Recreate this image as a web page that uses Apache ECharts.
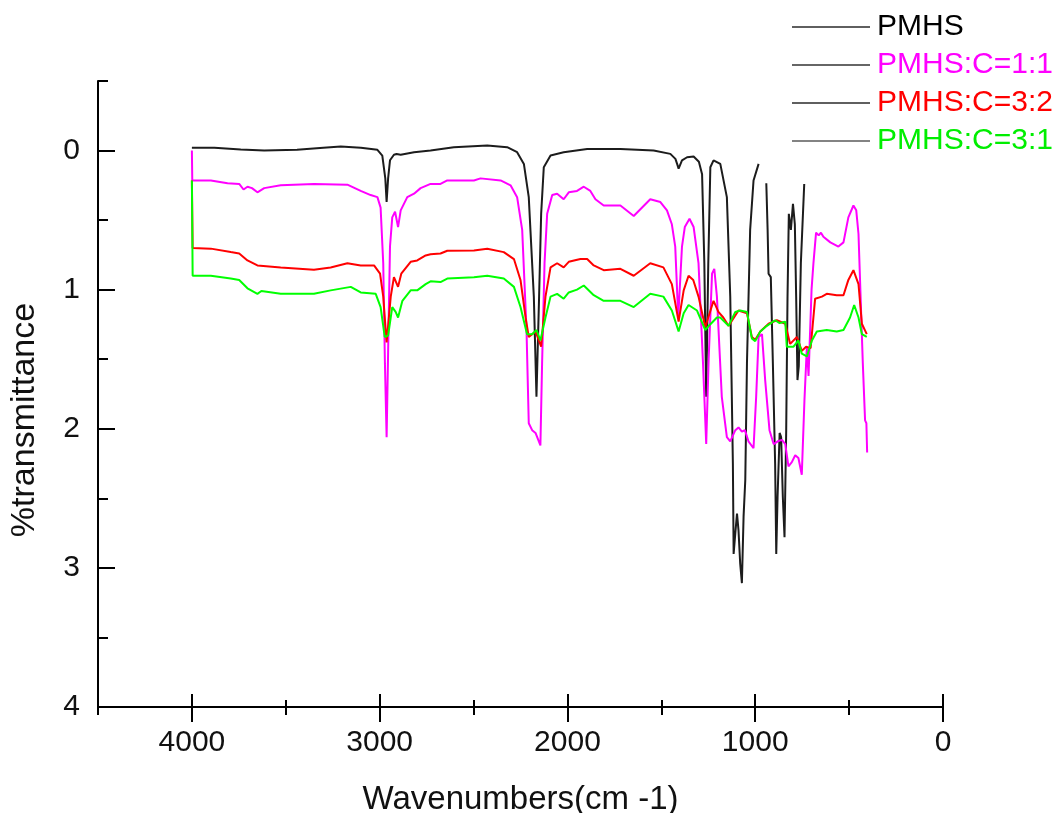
<!DOCTYPE html>
<html>
<head>
<meta charset="utf-8">
<script src="https://cdn.jsdelivr.net/npm/echarts@6/dist/echarts.min.js"></script>
<style>
html,body{margin:0;padding:0;background:#fff;}
#chart{width:1062px;height:813px;}
</style>
</head>
<body>
<div id="chart"></div>
<script>
// ---- Data (wavenumber cm-1, %transmittance axis value) ----
const seriesNames = ['PMHS', 'PMHS:C=1:1', 'PMHS:C=3:2', 'PMHS:C=3:1'];
const xMajorTicks = [0, 1000, 2000, 3000, 4000];
const xMinorTicks = [500, 1500, 2500, 3500, 4500];
const yMajorTicks = [0, 1, 2, 3, 4];
const yMinorTicks = [-0.5, 0.5, 1.5, 2.5, 3.5];

const pmhs = [
  [4000,-0.02],[3880,-0.02],[3740,-0.007],[3615,0.0],[3440,-0.005],[3300,-0.02],[3207,-0.03],
  [3100,-0.02],[3012,-0.005],[2986,0.036],[2970,0.2],[2963,0.37],[2955,0.2],[2945,0.07],
  [2924,0.03],[2910,0.025],[2888,0.03],[2817,0.012],[2729,0.0],[2605,-0.024],[2427,-0.036],
  [2321,-0.024],[2268,0.012],[2232,0.096],[2206,0.335],[2179,1.05],[2165,1.77],[2151,1.05],
  [2140,0.455],[2126,0.12],[2090,0.036],[2020,0.012],[1895,-0.012],[1718,-0.012],[1541,0.0],
  [1452,0.024],[1425,0.06],[1416,0.096],[1408,0.13],[1390,0.07],[1363,0.048],[1328,0.043],
  [1300,0.08],[1283,0.17],[1271,0.81],[1261,1.77],[1250,0.81],[1239,0.12],[1222,0.07],
  [1186,0.096],[1151,0.335],[1133,1.05],[1119,2.25],[1115,2.90],[1106,2.75],[1097,2.61],
  [1089,2.73],[1080,2.97],[1071,3.11],[1062,2.63],[1053,2.37],[1044,1.53],[1027,0.57],
  [1009,0.215],[982,0.096],[960,null],[941,0.235],[934,0.57],[929,0.885],[917,0.91],[906,1.53],
  [894,2.25],[888,2.90],[881,2.49],[870,2.03],[862,2.06],[853,2.49],[844,2.78],[835,2.01],
  [828,1.05],[821,0.455],[810,0.57],[799,0.383],[789,0.53],[782,1.05],[775,1.65],[768,1.55],
  [757,0.81],[739,0.24]
];

const pmhsC11 = [
  [4000,0.0],[3998,0.215],[3899,0.215],[3810,0.235],[3748,0.24],[3725,0.28],[3704,0.26],
  [3680,0.27],[3651,0.30],[3615,0.27],[3527,0.25],[3350,0.24],[3172,0.245],[3101,0.29],
  [3048,0.32],[3012,0.335],[2995,0.41],[2981,0.81],[2972,1.53],[2963,2.06],[2955,1.45],
  [2945,0.69],[2933,0.48],[2918,0.44],[2902,0.55],[2888,0.43],[2853,0.335],[2817,0.31],
  [2782,0.27],[2729,0.24],[2676,0.24],[2640,0.215],[2498,0.215],[2463,0.20],[2356,0.215],
  [2303,0.25],[2268,0.335],[2241,0.57],[2218,1.29],[2206,1.96],[2188,2.01],[2170,2.03],
  [2144,2.12],[2135,1.53],[2122,0.81],[2108,0.455],[2081,0.32],[2055,0.31],[2020,0.35],
  [1993,0.30],[1949,0.29],[1913,0.26],[1878,0.29],[1851,0.35],[1807,0.395],[1718,0.395],
  [1647,0.47],[1559,0.35],[1505,0.37],[1470,0.43],[1444,0.53],[1426,0.69],[1410,1.2],
  [1390,0.69],[1375,0.55],[1350,0.49],[1328,0.55],[1302,0.81],[1278,1.53],[1261,2.11],
  [1248,1.5],[1230,0.885],[1218,0.85],[1204,1.05],[1178,1.77],[1151,2.06],[1133,2.09],
  [1106,2.01],[1089,1.99],[1071,2.02],[1055,2.01],[1036,2.09],[1009,2.14],[995,1.77],
  [982,1.34],[964,1.32],[947,1.65],[924,2.01],[902,2.11],[880,2.09],[858,2.08],[840,2.11],
  [823,2.27],[805,2.24],[787,2.19],[770,2.21],[752,2.33],[738,1.8],[725,1.41],[716,1.62],
  [700,1.0],[690,0.81],[676,0.59],[662,0.61],[650,0.59],[637,0.62],[600,0.66],[557,0.69],
  [530,0.66],[504,0.48],[477,0.395],[462,0.43],[450,0.6],[427,1.53],[415,1.94],[408,1.96],
  [404,2.17]
];

const pmhsC32 = [
  [4000,0.215],[3996,0.70],[3899,0.705],[3793,0.73],[3748,0.74],[3704,0.79],[3651,0.826],
  [3527,0.84],[3350,0.857],[3261,0.84],[3172,0.81],[3101,0.826],[3030,0.826],[2998,0.885],
  [2981,1.05],[2963,1.38],[2941,1.05],[2924,0.91],[2902,0.98],[2885,0.885],[2835,0.80],
  [2800,0.79],[2755,0.754],[2729,0.745],[2676,0.74],[2640,0.72],[2498,0.718],[2427,0.706],
  [2339,0.73],[2285,0.78],[2250,0.93],[2223,1.20],[2206,1.34],[2170,1.30],[2140,1.41],
  [2117,1.05],[2090,0.84],[2055,0.81],[2020,0.84],[1993,0.80],[1931,0.78],[1895,0.78],
  [1860,0.826],[1807,0.86],[1718,0.85],[1647,0.90],[1559,0.81],[1489,0.84],[1444,0.96],
  [1408,1.23],[1381,1.005],[1355,0.90],[1330,0.93],[1302,1.05],[1266,1.27],[1250,1.2],
  [1222,1.08],[1196,1.16],[1170,1.2],[1142,1.26],[1089,1.15],[1044,1.17],[1018,1.34],
  [1000,1.36],[973,1.30],[929,1.245],[885,1.22],[840,1.245],[814,1.39],[778,1.34],
  [752,1.44],[729,1.41],[705,1.42],[681,1.065],[645,1.05],[619,1.03],[566,1.04],[530,1.04],
  [504,0.93],[477,0.86],[450,0.96],[432,1.245],[406,1.32]
];

const pmhsC31 = [
  [4000,0.215],[3996,0.90],[3899,0.90],[3793,0.92],[3748,0.93],[3704,0.99],[3651,1.03],
  [3630,1.01],[3527,1.03],[3350,1.03],[3261,1.005],[3154,0.98],[3101,1.02],[3021,1.03],
  [2995,1.125],[2973,1.34],[2955,1.33],[2933,1.125],[2915,1.16],[2902,1.20],[2879,1.08],
  [2835,1.005],[2800,1.005],[2755,0.96],[2729,0.94],[2676,0.945],[2640,0.92],[2498,0.91],
  [2427,0.90],[2339,0.92],[2285,0.98],[2250,1.125],[2215,1.32],[2188,1.32],[2165,1.29],
  [2144,1.365],[2117,1.20],[2090,1.05],[2055,1.03],[2020,1.065],[1993,1.02],[1949,1.0],
  [1913,0.97],[1860,1.04],[1807,1.08],[1718,1.08],[1647,1.125],[1559,1.03],[1489,1.05],
  [1444,1.15],[1408,1.30],[1381,1.17],[1355,1.11],[1310,1.15],[1266,1.29],[1240,1.25],
  [1204,1.20],[1186,1.20],[1142,1.26],[1106,1.16],[1080,1.15],[1044,1.16],[1018,1.35],
  [1000,1.37],[973,1.30],[938,1.26],[894,1.22],[870,1.24],[840,1.23],[832,1.41],[796,1.41],
  [770,1.365],[752,1.46],[725,1.48],[698,1.365],[672,1.30],[619,1.29],[566,1.30],[530,1.29],
  [495,1.20],[473,1.11],[450,1.20],[432,1.32],[406,1.34]
];

const lineColors = ['#1c1c1c', '#ff00ff', '#ff0000', '#00ff00'];
const legendTextColors = ['#000000', '#ff00ff', '#ff0000', '#00ee00'];
const legendLineColors = ['#2a2a2a', '#333333', '#2a2a2a', '#5a5a5a'];
const seriesData = [pmhs, pmhsC11, pmhsC32, pmhsC31];

const FONT = '"Liberation Sans", Arial, sans-serif';

function xAx(opts) {
  return Object.assign({
    type: 'value', min: 0, max: 4500, inverse: true, position: 'bottom',
    splitLine: {show: false},
    axisLine: {show: false, onZero: false},
    axisLabel: {show: false},
    axisPointer: {show: false}
  }, opts);
}
function yAx(opts) {
  return Object.assign({
    type: 'value', min: -0.5, max: 4, inverse: true, position: 'left',
    splitLine: {show: false},
    axisLine: {show: false, onZero: false},
    axisLabel: {show: false}
  }, opts);
}

const chart = echarts.init(document.getElementById('chart'), null, {renderer: 'canvas'});
chart.setOption({
  backgroundColor: '#ffffff',
  animation: false,
  grid: {left: 98, right: 119, top: 81, bottom: 106, containLabel: false, outerBoundsMode: 'none'},
  legend: {
    orient: 'vertical', left: 787, top: 7, itemWidth: 78, itemHeight: 14, itemGap: 8,
    textStyle: {fontFamily: FONT, fontSize: 30, padding: [0, 0, 0, 2]},
    data: seriesNames.map((n, i) => ({
      name: n,
      icon: 'path://M0,0 L100,0 L100,2 L0,2 Z',
      itemStyle: {color: legendLineColors[i]},
      lineStyle: {color: legendLineColors[i], width: 2},
      textStyle: {color: legendTextColors[i], fontFamily: FONT, fontSize: 30, padding: [0, 0, 0, 2]}
    }))
  },
  xAxis: [
    xAx({
      axisLine: {show: true, onZero: false, lineStyle: {color: '#000', width: 2}},
      axisTick: {show: true, inside: true, length: 13, customValues: xMajorTicks, lineStyle: {color: '#000', width: 2}},
      axisLabel: {show: true, customValues: xMajorTicks, formatter: v => String(v),
        fontFamily: FONT, fontSize: 30, color: '#111', margin: 21},
      name: 'Wavenumbers(cm -1)', nameLocation: 'middle', nameGap: 76,
      nameTextStyle: {fontFamily: FONT, fontSize: 33, color: '#111'}
    }),
    xAx({axisTick: {show: true, inside: false, length: 15, customValues: xMajorTicks, lineStyle: {color: '#000', width: 2}}}),
    xAx({axisTick: {show: true, inside: true, length: 7, customValues: xMinorTicks, lineStyle: {color: '#000', width: 2}}}),
    xAx({axisTick: {show: true, inside: false, length: 8, customValues: xMinorTicks, lineStyle: {color: '#000', width: 2}}})
  ],
  yAxis: [
    yAx({
      axisLine: {show: true, onZero: false, lineStyle: {color: '#000', width: 2}},
      axisTick: {show: true, inside: true, length: 17, customValues: yMajorTicks, lineStyle: {color: '#000', width: 2}},
      axisLabel: {show: true, customValues: yMajorTicks, formatter: v => String(v),
        fontFamily: FONT, fontSize: 30, color: '#111', margin: 18}
    }),
    yAx({axisTick: {show: true, inside: true, length: 10, customValues: yMinorTicks, lineStyle: {color: '#000', width: 2}}})
  ],
  graphic: [{
    type: 'text', x: 25, y: 420, rotation: Math.PI / 2,
    style: {text: '%transmittance', fontFamily: FONT, fontSize: 34, fill: '#111', align: 'center', verticalAlign: 'middle'}
  }],
  series: seriesNames.map((n, i) => ({
    name: n, type: 'line', xAxisIndex: 0, yAxisIndex: 0,
    data: seriesData[i], showSymbol: false, symbol: 'none', connectNulls: false,
    lineStyle: {color: lineColors[i], width: 2},
    itemStyle: {color: lineColors[i]},
    emphasis: {disabled: true},
    z: 2 + i
  }))
});
</script>
</body>
</html>
